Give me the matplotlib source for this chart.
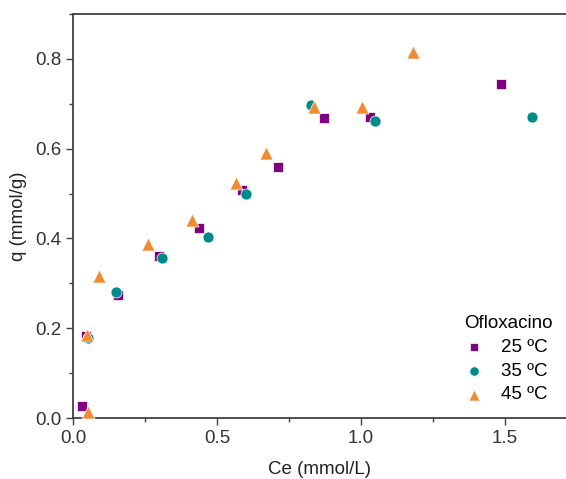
import matplotlib.pyplot as plt
from matplotlib.ticker import MultipleLocator

plt.rcParams['font.family'] = ['Liberation Sans', 'DejaVu Sans']

# Ofloxacino adsorption isotherms (Ce in mmol/L, q in mmol/g)
ce_25 = [0.031, 0.045, 0.156, 0.299, 0.438, 0.587, 0.712, 0.871, 1.031, 1.487]
q_25 = [0.027, 0.183, 0.273, 0.361, 0.424, 0.508, 0.560, 0.669, 0.671, 0.743]

ce_35 = [0.051, 0.148, 0.308, 0.468, 0.602, 0.826, 1.047, 1.594]
q_35 = [0.179, 0.280, 0.357, 0.404, 0.499, 0.697, 0.661, 0.671]

ce_45 = [0.053, 0.047, 0.091, 0.262, 0.412, 0.567, 0.669, 0.838, 1.003, 1.182]
q_45 = [0.014, 0.185, 0.317, 0.388, 0.441, 0.523, 0.591, 0.693, 0.693, 0.815]

labels = ['25 ºC', '35 ºC', '45 ºC']

fig = plt.figure(figsize=(5.66, 4.79), dpi=100)
ax = fig.add_axes([0.129, 0.1273, 0.871, 0.8435])

ax.scatter(ce_25, q_25, marker='s', s=52, color='#800080', edgecolors='white',
           linewidths=0.5, label=labels[0], zorder=3)
ax.scatter(ce_35, q_35, marker='o', s=63, color='#008B8B', edgecolors='white',
           linewidths=0.5, label=labels[1], zorder=3)
ax.scatter(ce_45, q_45, marker='^', s=88, color='#F28A30', edgecolors='white',
           linewidths=0.5, label=labels[2], zorder=3)

ax.set_xlim(0, 1.712)
ax.set_ylim(0, 0.9)
ax.xaxis.set_major_locator(MultipleLocator(0.5))
ax.xaxis.set_minor_locator(MultipleLocator(0.25))
ax.yaxis.set_major_locator(MultipleLocator(0.2))
ax.yaxis.set_minor_locator(MultipleLocator(0.1))

spine_col = '#404040'
ax.spines['right'].set_visible(False)
for side in ['left', 'bottom', 'top']:
    ax.spines[side].set_color(spine_col)
    ax.spines[side].set_linewidth(1.3)

ax.tick_params(which='major', direction='out', length=5, width=1, color=spine_col,
               labelsize=13.5, labelcolor='#333333', top=False, right=False)
ax.tick_params(which='minor', direction='out', length=3, width=1, color=spine_col,
               top=False, right=False)

ax.set_xlabel('Ce (mmol/L)', fontsize=13.5, color='#222222', labelpad=10)
ax.set_ylabel('q (mmol/g)', fontsize=13.5, color='#222222', labelpad=6)

leg = ax.legend(title='Ofloxacino', loc='upper left',
                bbox_to_anchor=(455 / 566, 1 - 306 / 479),
                bbox_transform=fig.transFigure, frameon=False,
                fontsize=13.5, title_fontsize=13.5, markerscale=0.85,
                handlelength=1.05, handletextpad=0.9, labelspacing=0.35,
                borderpad=0)
leg._legend_box.align = 'left'

fig.savefig('out.png', dpi=100)
